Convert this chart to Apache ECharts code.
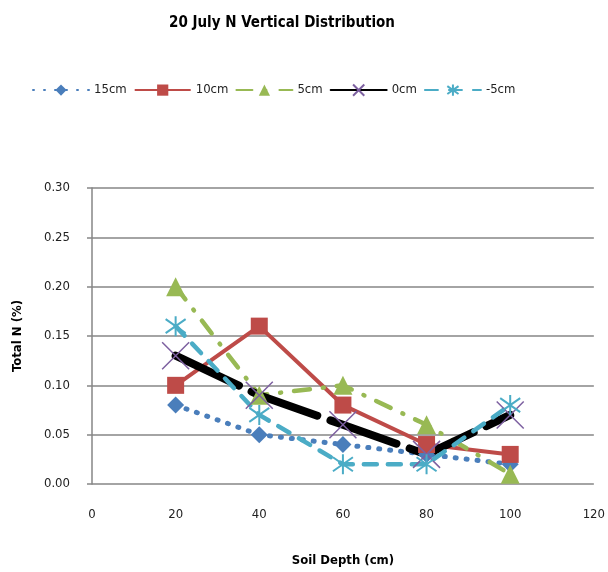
<!DOCTYPE html>
<html>
<head>
<meta charset="utf-8">
<script src="https://cdn.jsdelivr.net/npm/echarts@6/dist/echarts.min.js"></script>
<style>
  html, body { margin: 0; padding: 0; background: #fff; }
  #chart { width: 608px; height: 572px; }
</style>
</head>
<body>
<div id="chart"></div>
<script>
// Soil depths (cm) sampled on 20 July
const depths = [20, 40, 60, 80, 100];

// Total N (%) per sampling height
const seriesNames = ['15cm', '10cm', '5cm', '0cm', '-5cm'];
const n15cm  = [0.08, 0.05, 0.04, 0.03, 0.02];
const n10cm  = [0.10, 0.16, 0.08, 0.04, 0.03];
const n5cm   = [0.20, 0.09, 0.10, 0.06, 0.01];
const n0cm   = [0.13, 0.09, 0.06, 0.03, 0.07];
const nMinus5 = [0.16, 0.07, 0.02, 0.02, 0.08];

const FONT = '"DejaVu Sans Condensed", "Liberation Sans Narrow", sans-serif';

const pair = vals => depths.map((d, i) => [d, vals[i]]);

const crossPath = 'path://M0,0L20,20M20,0L0,20';
const starPath = 'path://M10,0L10,20M1,3L19,17M19,3L1,17';

const chart = echarts.init(document.getElementById('chart'), null, { renderer: 'canvas' });

const option = {
  animation: false,
  backgroundColor: '#ffffff',
  title: {
    text: '20 July N Vertical Distribution',
    left: 277,
    textAlign: 'center',
    top: 11,
    textStyle: { fontFamily: FONT, fontSize: 15, fontWeight: 'bold', color: '#000' }
  },
  legend: {
    top: 77,
    left: 27,
    itemWidth: 56,
    itemHeight: 14,
    itemGap: 7,
    textStyle: { fontFamily: FONT, fontSize: 13, color: '#222' },
    data: seriesNames
  },
  grid: { left: 92, right: 9, top: 188, bottom: 80 },
  xAxis: {
    type: 'value',
    min: 0, max: 120, interval: 20,
    name: 'Soil Depth (cm)',
    nameLocation: 'middle',
    nameGap: 70,
    nameTextStyle: { fontFamily: FONT, fontSize: 13, fontWeight: 'bold', color: '#000' },
    axisLine: { show: false },
    axisTick: { show: false },
    splitLine: { show: false },
    axisLabel: { margin: 24, fontFamily: FONT, fontSize: 13, color: '#222' }
  },
  yAxis: {
    type: 'value',
    min: 0, max: 0.3, interval: 0.05,
    name: 'Total N (%)',
    nameLocation: 'middle',
    nameGap: 68,
    nameTextStyle: { fontFamily: FONT, fontSize: 13, fontWeight: 'bold', color: '#000' },
    axisLine: { show: true, lineStyle: { color: '#868686', width: 1.5 } },
    axisTick: { show: true, length: 5, lineStyle: { color: '#868686', width: 1.5 } },
    splitLine: { show: true, lineStyle: { color: '#868686', width: 1.5 } },
    axisLabel: { margin: 22, fontFamily: FONT, fontSize: 13, color: '#222',
      formatter: v => v.toFixed(2) }
  },
  series: [
    {
      name: '15cm', type: 'line', data: pair(n15cm),
      symbol: 'diamond', symbolSize: 17,
      itemStyle: { color: '#4A7EBB' },
      lineStyle: { color: '#4A7EBB', width: 5, type: [1, 10], cap: 'round' }
    },
    {
      name: '10cm', type: 'line', data: pair(n10cm),
      symbol: 'rect', symbolSize: 17,
      itemStyle: { color: '#BE4B48' },
      lineStyle: { color: '#BE4B48', width: 4 }
    },
    {
      name: '5cm', type: 'line', data: pair(n5cm),
      symbol: 'triangle', symbolSize: 19,
      itemStyle: { color: '#98B954' },
      lineStyle: { color: '#98B954', width: 4.5, type: [16, 13, 1, 13], cap: 'round' }
    },
    {
      name: '0cm', type: 'line', data: pair(n0cm),
      symbol: crossPath, symbolSize: 27,
      itemStyle: { color: 'none', borderColor: '#7D60A0', borderWidth: 1.5 },
      lineStyle: { color: '#000000', width: 8, type: [70, 14], cap: 'round' }
    },
    {
      name: '-5cm', type: 'line', data: pair(nMinus5),
      symbol: starPath, symbolSize: 20,
      itemStyle: { color: 'none', borderColor: '#4BACC6', borderWidth: 2 },
      lineStyle: { color: '#4BACC6', width: 4.5, type: [13, 11], cap: 'round' }
    }
  ]
};

chart.setOption(option);
</script>
</body>
</html>
